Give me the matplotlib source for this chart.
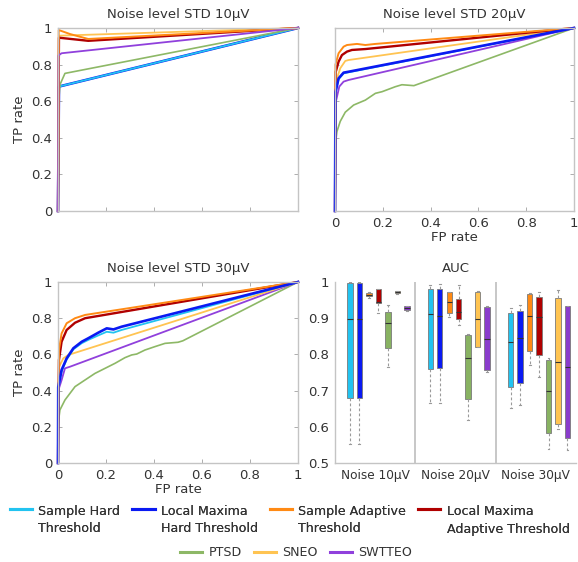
import matplotlib
matplotlib.use("Agg")
import matplotlib.pyplot as plt
from matplotlib.lines import Line2D

plt.rcParams['font.family'] = ['DejaVu Sans']

# ---------------- data ----------------
methods = ["Sample Hard\nThreshold", "Local Maxima\nHard Threshold", "Sample Adaptive\nThreshold",
           "Local Maxima\nAdaptive Threshold", "PTSD", "SNEO", "SWTTEO"]
colors = ["#22C3F0", "#0A1AF2", "#FF8A14", "#B00000", "#8DB866", "#FFC452", "#9040DC"]
box_colors = ["#22C3F0", "#0A1AF2", "#FF8A14", "#B00000", "#88B262", "#FFC452", "#8A3CCC"]

# ROC 10 uV
sht10_x = [0, 0.004, 1];                       sht10_y = [0, 0.68, 1]
lmht10_x = [0, 0.004, 1];                      lmht10_y = [0, 0.68, 1]
sat10_x = [0, 0.003, 0.05, 0.126, 1];          sat10_y = [0, 0.989, 0.967, 0.94, 1]
lmat10_x = [0, 0.004, 0.126, 1];               lmat10_y = [0, 0.947, 0.93, 1]
ptsd10_x = [0, 0.003, 0.008, 0.029, 1];        ptsd10_y = [0, 0.6, 0.69, 0.752, 1]
sneo10_x = [0, 0.004, 1];                      sneo10_y = [0, 0.958, 1]
swtteo10_x = [0, 0.002, 0.015, 1];             swtteo10_y = [0, 0.85, 0.862, 1]

# ROC 20 uV
sht20_x = [0, 0.002, 0.015, 0.036, 0.057, 1];  sht20_y = [0, 0.645, 0.72, 0.752, 0.758, 1]
lmht20_x = [0, 0.002, 0.015, 0.036, 0.057, 1]; lmht20_y = [0, 0.65, 0.725, 0.756, 0.761, 1]
sat20_x = [0, 0.002, 0.015, 0.036, 0.05, 0.092, 0.127, 0.169, 1]
sat20_y = [0, 0.8, 0.862, 0.898, 0.907, 0.913, 0.907, 0.913, 1]
lmat20_x = [0, 0.003, 0.015, 0.029, 0.05, 0.071, 0.127, 1]
lmat20_y = [0, 0.76, 0.816, 0.852, 0.871, 0.88, 0.885, 1]
ptsd20_x = [0, 0.001, 0.008, 0.022, 0.043, 0.078, 0.127, 0.169, 0.197, 0.252, 0.28, 0.33, 1]
ptsd20_y = [0, 0.36, 0.434, 0.49, 0.54, 0.579, 0.606, 0.643, 0.652, 0.679, 0.69, 0.685, 1]
sneo20_x = [0, 0.004, 0.022, 0.043, 0.057, 1]; sneo20_y = [0, 0.707, 0.78, 0.82, 0.825, 1]
swtteo20_x = [0, 0.004, 0.018, 0.036, 0.057, 1]; swtteo20_y = [0, 0.6, 0.68, 0.707, 0.716, 1]

# ROC 30 uV
sht30_x = [0, 0.001, 0.015, 0.036, 0.064, 0.099, 0.126, 0.168, 0.203, 0.231, 0.265, 1]
sht30_y = [0, 0.41, 0.505, 0.572, 0.628, 0.662, 0.68, 0.705, 0.725, 0.72, 0.735, 1]
lmht30_x = [0, 0.001, 0.015, 0.036, 0.064, 0.099, 0.126, 0.168, 0.203, 0.231, 0.265, 1]
lmht30_y = [0, 0.42, 0.514, 0.578, 0.634, 0.67, 0.689, 0.72, 0.744, 0.738, 0.753, 1]
sat30_x = [0, 0.004, 0.015, 0.036, 0.071, 0.113, 1]; sat30_y = [0, 0.624, 0.716, 0.772, 0.8, 0.818, 1]
lmat30_x = [0, 0.004, 0.015, 0.036, 0.071, 0.113, 1]; lmat30_y = [0, 0.569, 0.67, 0.735, 0.775, 0.8, 1]
ptsd30_x = [0, 0.001, 0.008, 0.029, 0.071, 0.113, 0.154, 0.196, 0.238, 0.279, 0.307, 0.328,
            0.362, 0.404, 0.446, 0.5, 0.52, 1]
ptsd30_y = [0, 0.22, 0.293, 0.348, 0.422, 0.459, 0.495, 0.523, 0.551, 0.582, 0.597, 0.602,
            0.624, 0.643, 0.661, 0.667, 0.675, 1]
sneo30_x = [0, 0.004, 0.022, 0.043, 1];        sneo30_y = [0, 0.53, 0.578, 0.597, 1]
swtteo30_x = [0, 0.001, 0.015, 0.029, 0.05, 1]; swtteo30_y = [0, 0.4, 0.458, 0.523, 0.532, 1]

# AUC box statistics: rows = noise level (10, 20, 30 uV), columns = methods
auc_q1 = [[0.68, 0.68, 0.960, 0.941, 0.818, 0.969, 0.923],
          [0.759, 0.762, 0.915, 0.898, 0.677, 0.821, 0.757],
          [0.711, 0.720, 0.810, 0.798, 0.582, 0.607, 0.568]]
auc_med = [[0.898, 0.898, 0.965, 0.945, 0.886, 0.971, 0.928],
           [0.911, 0.905, 0.946, 0.916, 0.790, 0.898, 0.842],
           [0.835, 0.845, 0.907, 0.903, 0.700, 0.779, 0.765]]
auc_q3 = [[0.998, 0.998, 0.970, 0.980, 0.916, 0.974, 0.934],
          [0.981, 0.982, 0.971, 0.953, 0.853, 0.973, 0.930],
          [0.913, 0.921, 0.967, 0.959, 0.785, 0.957, 0.935]]
auc_lo = [[0.552, 0.552, 0.957, 0.913, 0.766, 0.968, 0.921],
          [0.665, 0.665, 0.904, 0.881, 0.620, 0.820, 0.752],
          [0.651, 0.660, 0.771, 0.737, 0.540, 0.593, 0.537]]
auc_hi = [[1.0, 1.0, 0.972, 0.980, 0.936, 0.975, 0.935],
          [0.992, 0.994, 0.972, 0.992, 0.857, 0.975, 0.935],
          [0.927, 0.936, 0.970, 0.973, 0.790, 0.978, 0.935]]
auc_groups = ["Noise 10\u03bcV", "Noise 20\u03bcV", "Noise 30\u03bcV"]
titles = ["Noise level STD 10\u03bcV", "Noise level STD 20\u03bcV", "Noise level STD 30\u03bcV"]

roc10 = [(sht10_x, sht10_y), (lmht10_x, lmht10_y), (sat10_x, sat10_y), (lmat10_x, lmat10_y),
         (ptsd10_x, ptsd10_y), (sneo10_x, sneo10_y), (swtteo10_x, swtteo10_y)]
roc20 = [(sht20_x, sht20_y), (lmht20_x, lmht20_y), (sat20_x, sat20_y), (lmat20_x, lmat20_y),
         (ptsd20_x, ptsd20_y), (sneo20_x, sneo20_y), (swtteo20_x, swtteo20_y)]
roc30 = [(sht30_x, sht30_y), (lmht30_x, lmht30_y), (sat30_x, sat30_y), (lmat30_x, lmat30_y),
         (ptsd30_x, ptsd30_y), (sneo30_x, sneo30_y), (swtteo30_x, swtteo30_y)]

# drawing order (later = on top)
order10 = [1, 0, 4, 5, 3, 2, 6]
order20 = [0, 4, 6, 5, 3, 2, 1]
order30 = [4, 6, 5, 0, 3, 2, 1]
lws = [1.3, 1.9, 1.4, 1.7, 1.2, 1.3, 1.3]

# ---------------- figure ----------------
W, H = 578, 562
fig = plt.figure(figsize=(W / 100, H / 100), dpi=100)
TXT = "#333333"
SPN = "#c4c4c4"


def frac(l, t, r, b):
    return [l / W, 1 - b / H, (r - l) / W, (b - t) / H]


ax1 = fig.add_axes(frac(58, 28, 298, 211))
ax2 = fig.add_axes(frac(335, 28, 574, 211))
ax3 = fig.add_axes(frac(58, 282, 298, 463))
ax4 = fig.add_axes(frac(335, 282, 576, 463))

ticks = [0, 0.2, 0.4, 0.6, 0.8, 1]
ticklabels = ["0", "0.2", "0.4", "0.6", "0.8", "1"]


def style_roc(ax, title, xlab, ylab):
    ax.set_xlim(0, 1)
    ax.set_ylim(0, 1)
    ax.set_xticks(ticks)
    ax.set_yticks(ticks)
    ax.set_xticklabels(ticklabels if xlab else [])
    ax.set_yticklabels(ticklabels if ylab else [])
    ax.tick_params(direction="in", length=3, width=0.6, color="#a0a0a0", labelsize=9.5,
                   labelcolor=TXT, top=True, right=True, pad=4)
    for s in ax.spines.values():
        s.set_color(SPN)
        s.set_linewidth(1.0)
    ax.set_title(title, fontsize=9.5, color=TXT, pad=7)
    if xlab:
        ax.set_xlabel("FP rate", fontsize=9.5, color=TXT, labelpad=1)
    if ylab:
        ax.set_ylabel("TP rate", fontsize=9.5, color=TXT, labelpad=4)


for ax, data, order, title, xl, yl in [(ax1, roc10, order10, titles[0], False, True),
                                        (ax2, roc20, order20, titles[1], True, False),
                                        (ax3, roc30, order30, titles[2], True, True)]:
    for i in order:
        x, y = data[i]
        ax.plot(x, y, color=colors[i], lw=lws[i], solid_joinstyle="round", clip_on=False)
    style_roc(ax, title, xl, yl)

# ---------------- AUC boxplot ----------------
spacing = 0.118
for g in range(3):
    stats = []
    positions = []
    for i in range(7):
        stats.append(dict(med=auc_med[g][i], q1=auc_q1[g][i], q3=auc_q3[g][i],
                          whislo=auc_lo[g][i], whishi=auc_hi[g][i], fliers=[]))
        positions.append(g + 1 + (i - 3) * spacing + 0.04)
    bp = ax4.bxp(stats, positions=positions, widths=0.068, patch_artist=True, showfliers=False,
                 manage_ticks=False,
                 whiskerprops=dict(color="#9a9a9a", lw=0.8, linestyle=(0, (2.5, 2))),
                 capprops=dict(color="#9a9a9a", lw=0.8),
                 medianprops=dict(color="#333333", lw=0.8),
                 boxprops=dict(lw=0.6))
    for patch, c in zip(bp["boxes"], box_colors):
        patch.set_facecolor(c)
        patch.set_edgecolor("#7a7a7a")
    for cap in bp["caps"]:
        xd = cap.get_xdata()
        m = (xd[0] + xd[1]) / 2
        cap.set_xdata([m - 0.012, m + 0.012])

ax4.axvline(1.5, color="#bdbdbd", lw=1.2)
ax4.axvline(2.5, color="#bdbdbd", lw=1.2)
ax4.set_xlim(0.5, 3.5)
ax4.set_ylim(0.5, 1.0)
ax4.set_yticks([0.5, 0.6, 0.7, 0.8, 0.9, 1.0])
ax4.set_yticklabels(["0.5", "0.6", "0.7", "0.8", "0.9", "1"])
ax4.set_xticks([1, 2, 3])
ax4.set_xticklabels(auc_groups)
ax4.tick_params(axis="y", direction="in", length=0, labelsize=9.5, labelcolor=TXT, pad=4)
ax4.tick_params(axis="x", length=0, labelsize=8.7, labelcolor=TXT, pad=4)
for k in ["top", "right"]:
    ax4.spines[k].set_visible(False)
for k in ["left", "bottom"]:
    ax4.spines[k].set_color(SPN)
    ax4.spines[k].set_linewidth(1.0)
ax4.set_title("AUC", fontsize=9.5, color=TXT, pad=7)

# ---------------- legend ----------------
handles = [Line2D([], [], color=c, lw=2.2) for c in colors]
leg1 = fig.legend(handles[:4], methods[:4], ncol=4, loc="upper left",
                  bbox_to_anchor=(10 / W, 1 - 505 / H), frameon=False, fontsize=9.1,
                  handlelength=1.75, handletextpad=0.5, columnspacing=0.95, borderpad=0,
                  borderaxespad=0, labelcolor=TXT)
for t in leg1.get_texts():
    t.set_linespacing(1.45)
for col in leg1._legend_handle_box.get_children():
    for row in col.get_children():
        row.align = "top"
fig.add_artist(leg1)
leg2 = fig.legend(handles[4:], methods[4:], ncol=3, loc="upper left",
                  bbox_to_anchor=(180 / W, 1 - 546 / H), frameon=False, fontsize=9.1,
                  handlelength=1.75, handletextpad=0.5, columnspacing=0.95, borderpad=0,
                  borderaxespad=0, labelcolor=TXT)

fig.savefig("out.png", dpi=100)
